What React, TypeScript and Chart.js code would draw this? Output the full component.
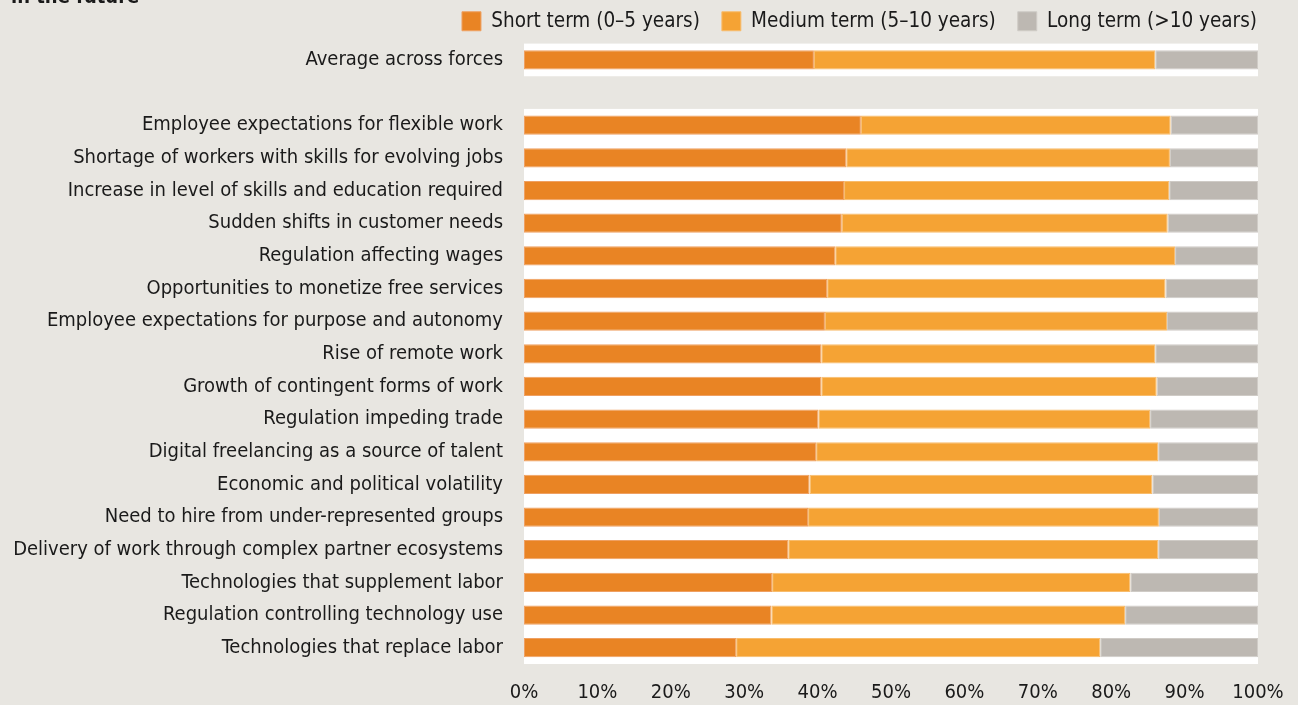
import React, { useEffect, useRef } from 'react';
import { Chart, registerables } from 'chart.js';

Chart.register(...registerables);

const categories: string[] = [
  'Average across forces',
  '',
  'Employee expectations for flexible work',
  'Shortage of workers with skills for evolving jobs',
  'Increase in level of skills and education required',
  'Sudden shifts in customer needs',
  'Regulation affecting wages',
  'Opportunities to monetize free services',
  'Employee expectations for purpose and autonomy',
  'Rise of remote work',
  'Growth of contingent forms of work',
  'Regulation impeding trade',
  'Digital freelancing as a source of talent',
  'Economic and political volatility',
  'Need to hire from under-represented groups',
  'Delivery of work through complex partner ecosystems',
  'Technologies that supplement labor',
  'Regulation controlling technology use',
  'Technologies that replace labor',
];

const shortTerm: (number | null)[] = [39.5, null, 45.9, 43.9, 43.6, 43.3, 42.4, 41.3, 41.0, 40.5, 40.5, 40.1, 39.8, 38.9, 38.7, 36.0, 33.8, 33.7, 28.9];
const mediumTerm: (number | null)[] = [46.5, null, 42.2, 44.1, 44.3, 44.4, 46.3, 46.1, 46.6, 45.5, 45.7, 45.2, 46.6, 46.7, 47.8, 50.4, 48.8, 48.2, 49.6];
const longTerm: (number | null)[] = [14.0, null, 11.9, 12.0, 12.1, 12.3, 11.3, 12.6, 12.4, 14.0, 13.8, 14.7, 13.6, 14.4, 13.5, 13.6, 17.4, 18.1, 21.5];

const seriesNames: string[] = ['Short term (0\u20135 years)', 'Medium term (5\u201310 years)', 'Long term (>10 years)'];
const xTickValues: number[] = [0, 10, 20, 30, 40, 50, 60, 70, 80, 90, 100];
const titleText = 'in the future';

const FONT = "'DejaVu Sans Condensed', 'Liberation Sans Narrow', Roboto, sans-serif";
const BG = '#E8E6E1';
const TEXT = '#1a1a1a';

const bandPlugin = {
  id: 'whiteBands',
  beforeDatasetsDraw(chart: any) {
    const { ctx, chartArea, scales } = chart;
    const y = scales.y;
    const labels = chart.data.labels as string[];
    const step = y.getPixelForValue(1) - y.getPixelForValue(0);
    ctx.save();
    ctx.fillStyle = '#ffffff';
    let start = -1;
    for (let i = 0; i <= labels.length; i++) {
      const has = i < labels.length && labels[i] !== '';
      if (has && start < 0) start = i;
      if (!has && start >= 0) {
        const top = y.getPixelForValue(start) - step / 2;
        const bottom = y.getPixelForValue(i - 1) + step / 2;
        ctx.fillRect(chartArea.left, top, chartArea.right - chartArea.left, bottom - top);
        start = -1;
      }
    }
    ctx.restore();
  },
};

const legendTweak = {
  id: 'legendTweak',
  beforeLayout(chart: any) {
    const lg = chart.legend;
    if (lg && !lg.__patched) {
      const origFit = lg.fit;
      const origDraw = lg.draw;
      lg.fit = function () {
        origFit.call(this);
        this.height = 43.6;
      };
      lg.draw = function () {
        const c = this.ctx;
        c.save();
        c.translate(21, -11);
        origDraw.call(this);
        c.restore();
      };
      lg.__patched = true;
    }
  },
};

export default function App() {
  const ref = useRef<HTMLCanvasElement | null>(null);

  useEffect(() => {
    if (!ref.current) return;
    const colors = ['#E98424', '#F5A334', '#BDB8B2'];
    const borders = ['#EFA062', '#F8BC6C', '#CFCBC6'];
    const values = [shortTerm, mediumTerm, longTerm];
    const chart = new Chart(ref.current, {
      type: 'bar',
      data: {
        labels: categories,
        datasets: seriesNames.map((name, i) => ({
          label: name,
          data: values[i],
          backgroundColor: colors[i],
          borderColor: borders[i],
          borderWidth: 1,
          borderSkipped: false,
          categoryPercentage: 1,
          barPercentage: 0.59,
        })),
      },
      options: {
        indexAxis: 'y',
        animation: false,
        responsive: false,
        maintainAspectRatio: false,
        layout: { padding: { left: 0, right: 40, top: 0, bottom: 0 } },
        plugins: {
          legend: {
            position: 'top',
            align: 'end',
            labels: {
              font: { family: FONT, size: 20.5 },
              color: TEXT,
              boxWidth: 19,
              boxHeight: 19,
              padding: 22,
            },
          },
          tooltip: { enabled: false },
          title: { display: false },
        },
        scales: {
          x: {
            stacked: true,
            min: 0,
            max: 100,
            grid: { display: false, drawTicks: false },
            border: { display: false },
            afterBuildTicks(scale: any) {
              scale.ticks = xTickValues.map((v) => ({ value: v }));
            },
            afterFit(scale: any) {
              scale.height = 41;
              scale.paddingLeft = 0;
              scale.paddingRight = 0;
            },
            ticks: {
              font: { family: FONT, size: 20 },
              color: TEXT,
              padding: 17,
              maxRotation: 0,
              autoSkip: false,
              callback: (v: any) => `${v}%`,
            },
          },
          y: {
            stacked: true,
            grid: { display: false, drawTicks: false },
            border: { display: false },
            afterFit(scale: any) {
              scale.width = 524;
            },
            ticks: {
              font: { family: FONT, size: 20 },
              color: TEXT,
              padding: 21,
              autoSkip: false,
            },
          },
        },
      } as any,
      plugins: [bandPlugin, legendTweak],
    });
    return () => chart.destroy();
  }, []);

  return (
    <div
      style={{
        position: 'fixed',
        left: 0,
        top: 0,
        width: 1298,
        height: 705,
        background: BG,
        overflow: 'hidden',
      }}
    >
      <div
        style={{
          position: 'absolute',
          left: 11,
          top: -16,
          fontFamily: FONT,
          fontWeight: 'bold',
          fontSize: 20,
          lineHeight: '24px',
          color: TEXT,
          whiteSpace: 'nowrap',
        }}
      >
        {titleText}
      </div>
      <canvas ref={ref} width={1298} height={705} style={{ display: 'block', width: 1298, height: 705 }} />
    </div>
  );
}
